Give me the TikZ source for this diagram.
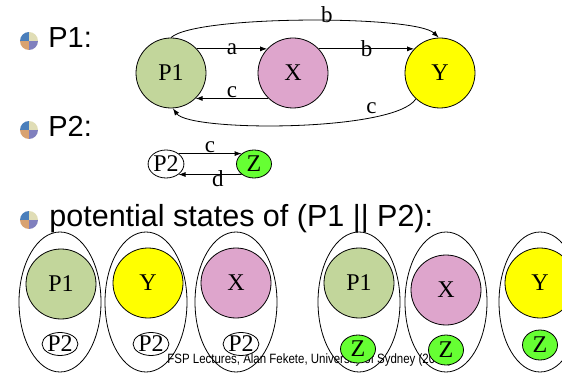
\documentclass[tikz,border=0pt]{standalone}
\usepackage{fontspec}
\setmainfont{Liberation Sans}
\newfontfamily\tmsfont{Liberation Serif}
\newfontfamily\footfont[FakeStretch=0.85]{Liberation Sans}
\usetikzlibrary{shapes.geometric,arrows.meta}
\definecolor{olivegr}{RGB}{194,214,155}
\definecolor{pinkx}{RGB}{222,165,204}
\definecolor{yelly}{RGB}{255,255,0}
\definecolor{greenz}{RGB}{102,255,51}
\definecolor{bulA}{RGB}{74,126,187}
\definecolor{bulB}{RGB}{224,221,182}
\definecolor{bulC}{RGB}{217,162,112}
\definecolor{bulD}{RGB}{128,128,190}

\begin{document}
\begin{tikzpicture}[x=1pt, y=-1pt, >={Latex[length=7pt,width=5pt]}, line width=0.8pt,
 st/.style={circle, draw, minimum size=70pt, inner sep=0pt, font=\tmsfont\fontsize{24}{24}\selectfont},
 sm/.style={ellipse, draw, minimum width=35pt, minimum height=28pt, inner sep=0pt, font=\tmsfont\fontsize{24}{24}\selectfont},
 pair/.style={ellipse, draw, minimum width=82pt, minimum height=140pt, inner sep=0pt},
 lbl/.style={inner sep=0pt, font=\tmsfont\fontsize{23}{23}\selectfont},
 head/.style={anchor=base west, inner sep=0pt, font=\fontsize{29}{29}\selectfont}]
 \path[use as bounding box, fill=white] (0,0) rectangle (562,374);
 \clip (0,0) rectangle (562,374);

 % bullets
 \foreach \by in {41,130,220} {
  \begin{scope}
   \clip (29,\by) circle[radius=9pt];
   \fill[bulA] (20,\by-9) rectangle (29,\by);
   \fill[bulB] (29,\by-9) rectangle (38,\by);
   \fill[bulC] (20,\by) rectangle (29,\by+9);
   \fill[bulD] (29,\by) rectangle (38,\by+9);
  \end{scope}
 }
 \node[head] (hP1) at (48,48) {P1:};
 \node[head] (hP2) at (48,137) {P2:};
 \node[head, font=\fontsize{30.5}{30.5}\selectfont] (hst) at (49,226) {potential states of (P1 || P2):};

 % P1
 \node[st, fill=olivegr] (nP1) at (171,73) {P1};
 \node[st, fill=pinkx] (nX) at (293,73) {X};
 \node[st, fill=yelly] (nY) at (440,73) {Y};
 \draw[->] (nP1.43) -- node[lbl]{a} (nX.137);
 \draw[->] (nX.43) -- node[lbl]{b} (nY.137);
 \draw[->] (nX.-134) -- node[lbl, yshift=6pt]{c} (nP1.-46);
 \draw[->] (nP1.90) .. controls (195,15) and (415,15) .. node[lbl, pos=0.56, yshift=6pt]{b} (nY.92);
 \draw[->] (nY.-133) .. controls (395,132) and (190,132) .. node[lbl, pos=0.25, yshift=9pt]{c} (nP1.-87);

 % P2
 \node[sm] (nP2) at (166,164) {P2};
 \node[sm, fill=greenz] (nZ) at (254,164) {Z};
 \draw[->] (nP2.40) -- node[lbl, yshift=6pt]{c} (nZ.140);
 \draw[->] (nZ.-140) -- node[lbl, pos=0.375, yshift=-4pt]{d} (nP2.-40);

 % states of P1 || P2
 \node[anchor=base west, inner sep=0pt, font=\footfont\fontsize{13.5}{13.5}\selectfont] (foot) at (167,363)
  {FSP Lectures, Alan Fekete, University of Sydney (2004)};

 \node[pair] (s1) at (60,302) {};
 \node[pair] (s2) at (146,302) {};
 \node[pair] (s3) at (236,302) {};
 \node[pair] (s4) at (359,302) {};
 \node[pair] (s5) at (446,302) {};
 \node[pair] (s6) at (540,302) {};

 \node[st, fill=olivegr] (a1) at (61,284) {P1};
 \node[st, fill=yelly] (a2) at (148,283) {Y};
 \node[st, fill=pinkx] (a3) at (236,283) {X};
 \node[st, fill=olivegr] (a4) at (359,283) {P1};
 \node[st, fill=pinkx] (a5) at (446,290) {X};
 \node[st, fill=yelly] (a6) at (540,283) {Y};

 \node[sm, fill=white, minimum height=23pt] (b1) at (60,344) {P2};
 \node[sm, fill=white, minimum height=23pt] (b2) at (151,344) {P2};
 \node[sm, fill=white, minimum height=23pt] (b3) at (241,344) {P2};
 \node[sm, fill=greenz] (b4) at (358,349) {Z};
 \node[sm, fill=greenz, minimum height=30pt] (b5) at (446,350) {Z};
 \node[sm, fill=greenz, minimum height=30pt] (b6) at (540,345) {Z};
\end{tikzpicture}
\end{document}
